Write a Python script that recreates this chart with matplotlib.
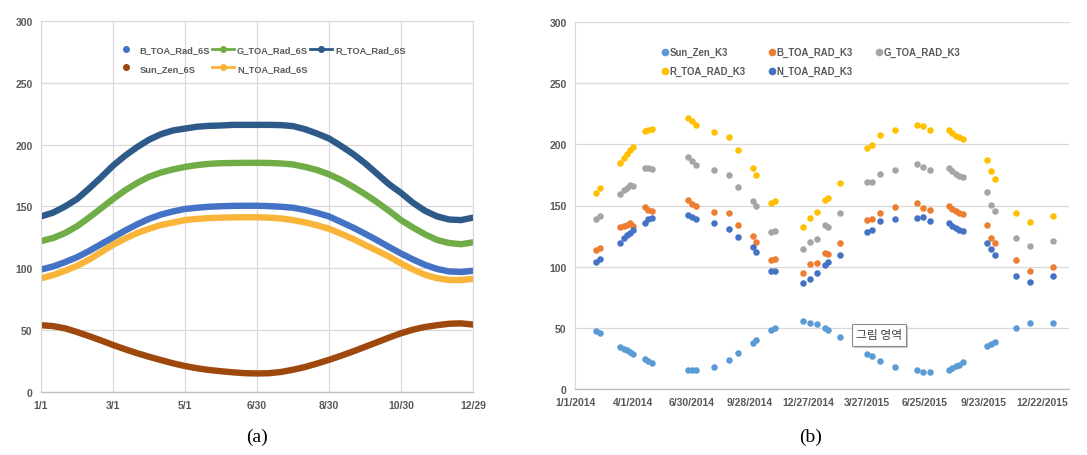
import matplotlib
matplotlib.use('Agg')
import matplotlib.pyplot as plt
from matplotlib.lines import Line2D

# ---------- (a) 6S simulated, one year (day of year) ----------
doy = list(range(0, 361, 10))
b_6s = [99, 101.5, 105, 109, 114, 119.5, 125, 130.5, 135.5, 140, 143.5, 146, 148,
        149, 149.8, 150.2, 150.5, 150.6, 150.6, 150.3, 149.8, 149, 147.2, 144.8,
        142, 137.5, 133, 128, 122.8, 117.3, 112, 107.2, 102.8, 99.5, 97.5, 97, 98]
g_6s = [122, 124.5, 128.5, 134, 141, 148.5, 156, 163, 169, 174, 177.5, 180, 182,
        183.5, 184.5, 185, 185.2, 185.3, 185.3, 185.2, 184.8, 184, 182, 179.5,
        176, 171.5, 166, 160, 153.5, 146.5, 139, 133, 127.5, 123, 120.5, 119.5, 121]
r_6s = [142, 145, 150, 156, 164.5, 173.5, 183, 191, 198, 204, 208.5, 211.5, 213,
        214.5, 215.2, 215.5, 216, 216, 216, 216, 215.8, 215, 212.5, 209, 205, 199,
        192.5, 185, 176.5, 168, 161, 153, 146.5, 142, 139.5, 139, 141]
sun_6s = [54, 53.3, 51.5, 48.5, 45.2, 41.7, 38, 34.6, 31.4, 28.5, 25.8, 23.2, 21,
          19.2, 17.8, 16.8, 15.9, 15.2, 15, 15.2, 16.2, 18, 20.2, 23, 26, 29.3,
          32.8, 36.5, 40.2, 44, 47.5, 50.4, 52.6, 54, 55.2, 55.5, 54.5]
n_6s = [92, 94.5, 98, 102, 107, 113, 119, 124, 128.5, 132, 135, 137, 139, 140,
        140.6, 141, 141.2, 141.3, 141.3, 141, 140.3, 139, 137.2, 134.8, 132, 128,
        123.8, 119, 114.3, 109.5, 104, 99, 94.8, 92, 90.6, 90.5, 91.5]
a_ticks = [0, 60, 120, 180, 240, 300, 360]
a_labels = ['1/1', '3/1', '5/1', '6/30', '8/30', '10/30', '12/29']

# ---------- (b) K3 observations, days since 1/1/2014 ----------
obs_day = [33, 38, 69, 75, 80, 85, 90, 108, 113, 119, 175, 180, 186, 214, 237,
           251, 274, 279, 303, 308, 352, 362, 373, 386, 391, 409, 451, 458,
           470, 493, 527, 537, 548, 577, 582, 587, 592, 598, 636, 641, 648,
           680, 702, 738]
sun_k3 = [47.2, 45.8, 34.6, 33.1, 31.7, 30.3, 28.9, 24.2, 22.8, 21.3, 15.7, 15.2,
          15.2, 18.3, 23.9, 29.8, 37.4, 40.2, 48.0, 50.0, 55.6, 54.2, 53.4, 50.0,
          48.3, 42.4, 28.9, 27.0, 22.5, 18.3, 15.2, 14.3, 14.3, 15.7, 17.1, 18.5,
          19.9, 21.9, 35.1, 36.5, 38.8, 50.0, 54.2, 54.2]
b_k3 = [113.6, 115.5, 132.5, 133, 134, 135.5, 133, 148.9, 146.7, 145.1, 154.5,
        151.5, 149.5, 144.6, 143.5, 133.7, 125, 120.1, 105.4, 106.5, 94.6, 101.9,
        102.7, 110.9, 110.1, 119, 138, 138.6, 144, 148.9, 152.2, 148.1, 146.2,
        149.5, 147.3, 145.4, 143.5, 142.7, 133.7, 123.6, 119.6, 105.4, 96.5, 100]
g_k3 = [139.1, 141.3, 159.8, 162.5, 164.4, 167.1, 166.3, 181, 180.5, 180, 189.4,
        186.7, 183.4, 179.3, 175.3, 165.5, 153.8, 149.5, 128.6, 129.4, 114.8,
        119.8, 122.5, 133.7, 132.6, 143.5, 169, 169, 176.1, 178.8, 184.2, 181.5,
        179.3, 180.7, 178, 176.1, 174.5, 173.1, 160.9, 150.8, 145.4, 123.1,
        116.8, 120.9]
r_k3 = [160.1, 164.7, 185, 189, 192, 195, 197.5, 210.6, 212, 212.5, 221.2, 218.8,
        215.8, 210.3, 206.3, 195.4, 180.4, 175, 152.2, 153.5, 132.5, 140, 144.6,
        154.9, 156.3, 168.5, 197, 199.7, 207.9, 211.4, 216, 214.7, 211.4, 212,
        209.2, 207, 205.9, 204.3, 187.5, 178, 172, 144, 136.4, 141.3]
n_k3 = [103.8, 106.5, 119.6, 123.6, 125.5, 127.2, 129.9, 135.9, 138.6, 139.9,
        142.4, 140.8, 139.1, 135.3, 130.9, 124.5, 116.3, 112, 96.5, 96.5, 86.7,
        89.7, 95.1, 101.1, 103.8, 109.2, 128.3, 129.9, 137.2, 139.1, 139.9, 140.8,
        137.2, 135.9, 133.2, 131.3, 129.9, 129.1, 119, 114.1, 109.2, 92.4, 87.8,
        92.4]
b_ticks = [0, 90, 180, 270, 360, 450, 540, 630, 720]
b_labels = ['1/1/2014', '4/1/2014', '6/30/2014', '9/28/2014', '12/27/2014',
            '3/27/2015', '6/25/2015', '9/23/2015', '12/22/2015']

txt = '#595959'
grid = '#D9D9D9'
font = dict(family='Liberation Sans', weight='bold', size=7.5)
lfont_a = dict(family='Liberation Sans', weight='bold', size=6.7)
lfont_b = dict(family='Liberation Sans', weight='bold', size=6.9)

fig = plt.figure(figsize=(10.87, 4.56), dpi=100)
ax1 = fig.add_axes([41/1087, 1-393/456, 432/1087, 371/456])
ax2 = fig.add_axes([575/1087, 1-390/456, 494/1087, 367/456])

# panel (a)
c_a = {'B': '#4472C4', 'G': '#70AD47', 'R': '#2E5A8A', 'Sun': '#9E480E', 'N': '#F9B53A'}
lw = 4.6
for y, k in [(sun_6s, 'Sun'), (n_6s, 'N'), (b_6s, 'B'), (g_6s, 'G'), (r_6s, 'R')]:
    ax1.plot(doy, y, color=c_a[k], lw=lw, solid_capstyle='round',
             solid_joinstyle='round')
ax1.set_xlim(0, 360)
ax1.set_ylim(0, 300)
ax1.set_xticks(a_ticks)
ax1.set_xticklabels(a_labels)
ax1.set_yticks(range(0, 301, 50))
ax1.grid(True, color=grid, lw=0.9)

h_a = [Line2D([], [], color=c_a['B'], marker='o', ls='none', ms=4),
       Line2D([], [], color=c_a['Sun'], marker='o', ls='none', ms=4),
       Line2D([], [], color=c_a['G'], marker='o', ls='-', lw=2, ms=4),
       Line2D([], [], color=c_a['N'], marker='o', ls='-', lw=2, ms=4),
       Line2D([], [], color=c_a['R'], marker='o', ls='-', lw=2, ms=4)]
l_a = ['B_TOA_Rad_6S', 'Sun_Zen_6S', 'G_TOA_Rad_6S', 'N_TOA_Rad_6S', 'R_TOA_Rad_6S']
ax1.legend(h_a, l_a, ncol=3, loc='upper center', bbox_to_anchor=(0.507, 0.957),
           frameon=False, prop=lfont_a, labelcolor=txt, handlelength=2.4,
           handletextpad=0.3, columnspacing=0.2, labelspacing=1.0)

# panel (b)
c_b = {'Sun': '#5B9BD5', 'B': '#ED7D31', 'G': '#A5A5A5', 'R': '#FFC000', 'N': '#4472C4'}
s = 22
for y, k in [(sun_k3, 'Sun'), (b_k3, 'B'), (g_k3, 'G'), (r_k3, 'R'), (n_k3, 'N')]:
    ax2.scatter(obs_day, y, s=s, color=c_b[k], lw=0, zorder=3)
ax2.set_xlim(0, 762)
ax2.set_ylim(0, 300)
ax2.set_xticks(b_ticks)
ax2.set_xticklabels(b_labels)
ax2.set_yticks(range(0, 301, 50))
ax2.grid(True, axis='y', color=grid, lw=0.9)

h_b = [Line2D([], [], color=c_b[k], marker='o', ls='none', ms=4.5)
       for k in ['Sun', 'R', 'B', 'N', 'G']]
l_b = ['Sun_Zen_K3', 'R_TOA_RAD_K3', 'B_TOA_RAD_K3', 'N_TOA_RAD_K3', 'G_TOA_RAD_K3']
ax2.legend(h_b, l_b, ncol=3, loc='upper center', bbox_to_anchor=(0.478, 0.955),
           frameon=False, prop=lfont_b, labelcolor=txt, handlelength=0.6,
           handletextpad=0.2, columnspacing=2.4, labelspacing=0.95)

for ax in (ax1, ax2):
    ax.set_axisbelow(True)
    ax.tick_params(length=0, labelcolor=txt, pad=6)
    for lab in ax.get_xticklabels() + ax.get_yticklabels():
        lab.set_fontproperties(font)
    ax.spines['top'].set_color(grid)
    ax.spines['right'].set_visible(False)
    ax.spines['left'].set_color(grid)
    ax.spines['bottom'].set_color('#BFBFBF')
    ax.spines['bottom'].set_linewidth(1.0)
ax1.spines['right'].set_visible(True)
ax1.spines['right'].set_color(grid)

# tooltip box left over from the spreadsheet
fig.text(881/1087, 1-338/456, '그림 영역', ha='center', va='center', fontsize=8.5,
         family='Noto Sans CJK KR', color='none',
         bbox=dict(boxstyle='square,pad=0.35', fc='#C8C8C8', ec='none'))
fig.text(879/1087, 1-336/456, '그림 영역', ha='center', va='center', fontsize=8.5,
         family='Noto Sans CJK KR', color='#404040',
         bbox=dict(boxstyle='square,pad=0.35', fc='white', ec='#8C8C8C', lw=0.8))

fig.text(257/1087, 1-437/456, '(a)', ha='center', va='center', fontsize=14,
         family='Liberation Serif')
fig.text(811/1087, 1-437/456, '(b)', ha='center', va='center', fontsize=14,
         family='Liberation Serif')

fig.savefig('out.png', dpi=100)
